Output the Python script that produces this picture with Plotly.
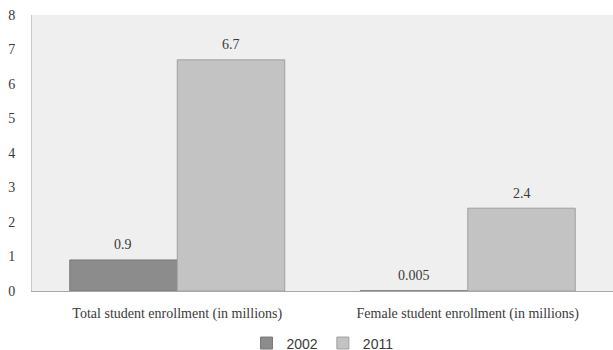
import plotly.graph_objects as go

categories = ["Total student enrollment (in millions)", "Female student enrollment (in millions)"]
years = ["2002", "2011"]
values_2002 = [0.9, 0.005]
values_2011 = [6.7, 2.4]
labels_2002 = ["0.9", "0.005"]
labels_2011 = ["6.7", "2.4"]
y_ticks = [0, 1, 2, 3, 4, 5, 6, 7, 8]

serif = "Liberation Serif, DejaVu Serif, serif"
text_color = "#3a3a3a"

fig = go.Figure()
fig.add_trace(go.Bar(
    name=years[0], x=categories, y=values_2002,
    marker=dict(color="#8c8c8c", line=dict(color="#7a7a7a", width=1)),
))
fig.add_trace(go.Bar(
    name=years[1], x=categories, y=values_2011,
    marker=dict(color="#c3c3c3", line=dict(color="#a0a0a0", width=1)),
))

# value labels above each bar, offset horizontally to the grouped bar positions
for vals, labs, shift in [(values_2002, labels_2002, -54), (values_2011, labels_2011, 54)]:
    for cat, v, lab in zip(categories, vals, labs):
        fig.add_annotation(
            x=cat, y=v, text=lab, showarrow=False,
            xshift=shift, yshift=15, yanchor="middle",
            font=dict(family=serif, size=14, color=text_color),
        )

fig.update_layout(
    width=613, height=350,
    margin=dict(l=32, r=0, t=15, b=59, autoexpand=False),
    paper_bgcolor="white",
    plot_bgcolor="#efefef",
    barmode="group",
    bargap=0.26,
    bargroupgap=0,
    showlegend=True,
    legend=dict(
        orientation="h", x=0.5, xanchor="center",
        y=-0.132, yanchor="top",
        font=dict(family="Liberation Sans, Arial, sans-serif", size=14, color=text_color),
        itemwidth=30, traceorder="normal",
    ),
    xaxis=dict(
        showline=True, linecolor="#a8a8a8", linewidth=1,
        ticks="", ticklabelstandoff=9,
        tickfont=dict(family=serif, size=14, color=text_color),
        showgrid=False,
    ),
    yaxis=dict(
        range=[0, 8], tickvals=y_ticks, showgrid=False, zeroline=False,
        showline=True, linecolor="#c8c8c8", linewidth=1,
        ticks="", ticklabelstandoff=13,
        tickfont=dict(family=serif, size=14, color=text_color),
    ),
)

fig.write_html("out.html")
